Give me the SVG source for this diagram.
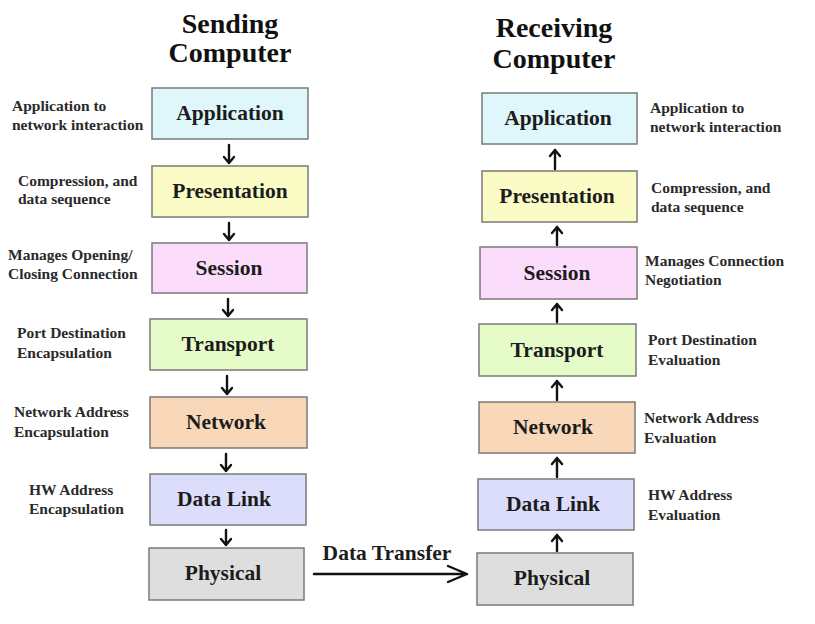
<svg xmlns="http://www.w3.org/2000/svg" width="815" height="624" viewBox="0 0 815 624">
<style>
.box{stroke:#7a7a7a;stroke-width:1.5}
.lbl{font-family:"Liberation Serif","Times New Roman",serif;font-weight:bold;font-size:21.5px;fill:#1c1c1c;text-anchor:middle}
.ttl{font-family:"Liberation Serif","Times New Roman",serif;font-weight:bold;font-size:28px;fill:#111;text-anchor:middle}
.side{font-family:"Liberation Serif","Times New Roman",serif;font-weight:bold;font-size:15.5px;fill:#2a2a2a}
.arr{stroke:#111;stroke-width:2.4;fill:none;stroke-linecap:round;stroke-linejoin:round}
.c1{fill:#dff7fb}.c2{fill:#fbfbc6}.c3{fill:#fbdcfb}.c4{fill:#e5fbc8}.c5{fill:#f9d8b9}.c6{fill:#dcdcfb}.c7{fill:#dedede}
</style>
<rect width="815" height="624" fill="#ffffff"/>
<g id="titles">
<text class="ttl" x="230" y="33">Sending</text>
<text class="ttl" x="230" y="62">Computer</text>
<text class="ttl" x="554" y="37">Receiving</text>
<text class="ttl" x="554" y="68">Computer</text>
</g>
<g id="send-application"><rect class="box c1" x="152" y="88" width="156" height="51"/><text class="lbl" x="230" y="120">Application</text></g>
<g id="send-presentation"><rect class="box c2" x="152" y="166" width="156" height="51"/><text class="lbl" x="230" y="198">Presentation</text></g>
<g id="send-session"><rect class="box c3" x="152" y="243" width="155" height="50"/><text class="lbl" x="229" y="275">Session</text></g>
<g id="send-transport"><rect class="box c4" x="150" y="319" width="157" height="51"/><text class="lbl" x="228" y="351">Transport</text></g>
<g id="send-network"><rect class="box c5" x="150" y="397" width="157" height="51"/><text class="lbl" x="226" y="429">Network</text></g>
<g id="send-datalink"><rect class="box c6" x="150" y="474" width="156" height="51"/><text class="lbl" x="224" y="506">Data Link</text></g>
<g id="send-physical"><rect class="box c7" x="149" y="548" width="155" height="52"/><text class="lbl" x="223" y="580">Physical</text></g>

<g id="recv-application"><rect class="box c1" x="482" y="93" width="155" height="51"/><text class="lbl" x="558" y="125">Application</text></g>
<g id="recv-presentation"><rect class="box c2" x="482" y="171" width="155" height="51"/><text class="lbl" x="557" y="203">Presentation</text></g>
<g id="recv-session"><rect class="box c3" x="480" y="247" width="157" height="52"/><text class="lbl" x="557" y="280">Session</text></g>
<g id="recv-transport"><rect class="box c4" x="479" y="324" width="157" height="52"/><text class="lbl" x="557" y="357">Transport</text></g>
<g id="recv-network"><rect class="box c5" x="479" y="402" width="156" height="51"/><text class="lbl" x="553" y="434">Network</text></g>
<g id="recv-datalink"><rect class="box c6" x="478" y="479" width="156" height="51"/><text class="lbl" x="553" y="511">Data Link</text></g>
<g id="recv-physical"><rect class="box c7" x="477" y="553" width="156" height="52"/><text class="lbl" x="552" y="585">Physical</text></g>

<g id="side-labels">
<text class="side" x="12" y="111">Application to</text>
<text class="side" x="12" y="130">network interaction</text>
<text class="side" x="18" y="186">Compression, and</text>
<text class="side" x="18" y="204">data sequence</text>
<text class="side" x="8" y="260">Manages Opening/</text>
<text class="side" x="8" y="279">Closing Connection</text>
<text class="side" x="17" y="338">Port Destination</text>
<text class="side" x="17" y="358">Encapsulation</text>
<text class="side" x="14" y="417">Network Address</text>
<text class="side" x="14" y="437">Encapsulation</text>
<text class="side" x="29" y="495">HW Address</text>
<text class="side" x="29" y="514">Encapsulation</text>

<text class="side" x="650" y="113">Application to</text>
<text class="side" x="650" y="132">network interaction</text>
<text class="side" x="651" y="193">Compression, and</text>
<text class="side" x="651" y="212">data sequence</text>
<text class="side" x="645" y="266">Manages Connection</text>
<text class="side" x="645" y="285">Negotiation</text>
<text class="side" x="648" y="345">Port Destination</text>
<text class="side" x="648" y="365">Evaluation</text>
<text class="side" x="644" y="423">Network Address</text>
<text class="side" x="644" y="443">Evaluation</text>
<text class="side" x="648" y="500">HW Address</text>
<text class="side" x="648" y="520">Evaluation</text>
</g>

<g id="connectors">
<path class="arr" d="M229 145V163M224 157L229 163L234 157"/>
<path class="arr" d="M229 223V240M224 234L229 240L234 234"/>
<path class="arr" d="M228 299V316M223 310L228 316L233 310"/>
<path class="arr" d="M227 376V394M222 388L227 394L232 388"/>
<path class="arr" d="M226 454V471M221 465L226 471L231 465"/>
<path class="arr" d="M226 530V545M221 539L226 545L231 539"/>

<path class="arr" d="M555 169V150M550 156L555 150L560 156"/>
<path class="arr" d="M557 245V227M552 233L557 227L562 233"/>
<path class="arr" d="M557 322V304M552 310L557 304L562 310"/>
<path class="arr" d="M557 400V381M552 387L557 381L562 387"/>
<path class="arr" d="M557 477V458M552 464L557 458L562 464"/>
<path class="arr" d="M557 551V535M552 541L557 535L562 541"/>

<path class="arr" d="M314 574H466M448 566L467 574L448 582" stroke-width="3"/>
<text class="lbl" x="387" y="560">Data Transfer</text>
</g>
</svg>
